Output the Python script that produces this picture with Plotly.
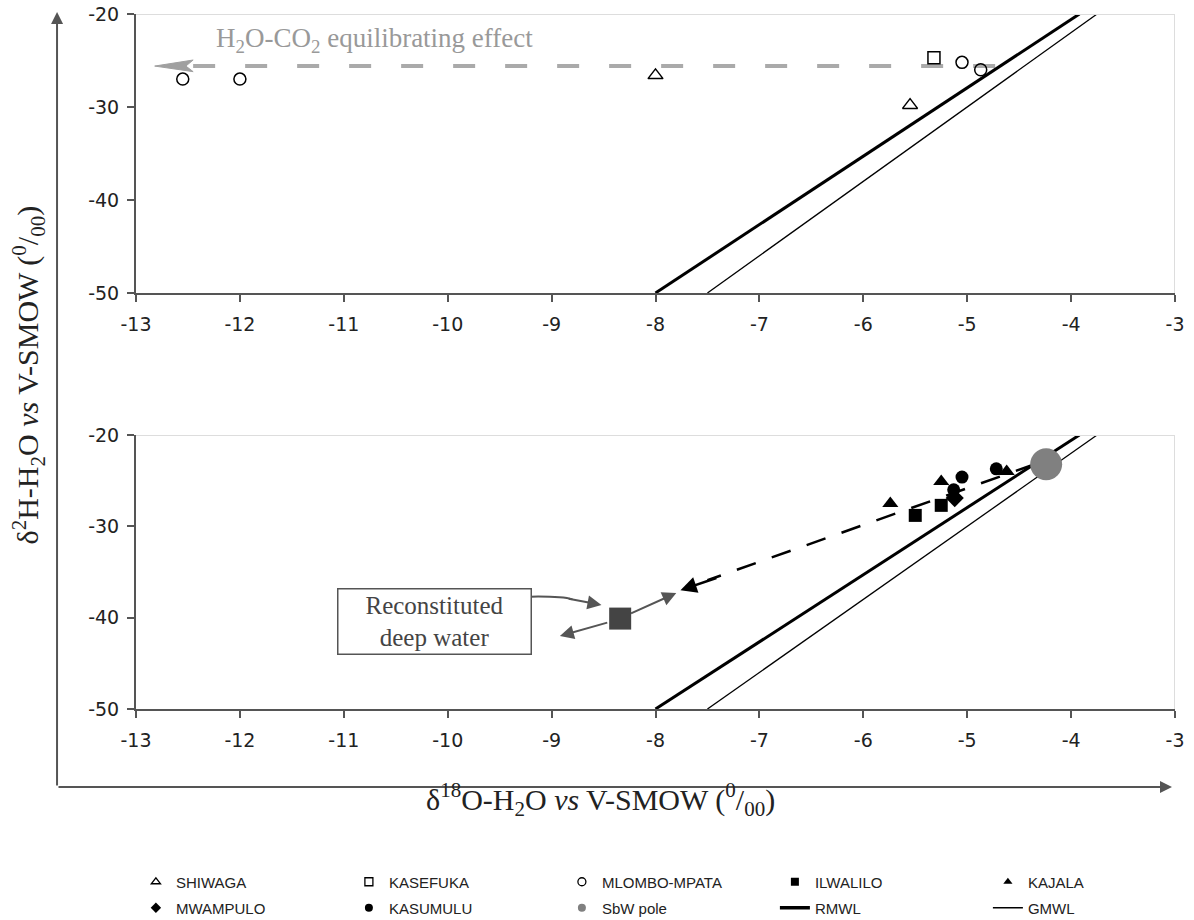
import plotly.graph_objects as go
from plotly.subplots import make_subplots

# panel a (top)
shiwaga_x = [-8.0, -5.55]
shiwaga_y = [-26.6, -29.8]
kasefuka_x = [-5.32]
kasefuka_y = [-24.7]
mlombo_x = [-12.55, -12.0, -5.05, -4.87]
mlombo_y = [-27.0, -27.0, -25.2, -26.0]
equil_x = [-12.45, -4.7]
equil_y = [-25.6, -25.6]

# panel b (bottom)
ilwalilo_x = [-5.5, -5.25]
ilwalilo_y = [-28.8, -27.7]
kajala_x = [-5.74, -5.25, -4.62]
kajala_y = [-27.5, -25.1, -24.0]
mwampulo_x = [-5.12]
mwampulo_y = [-26.9]
kasumulu_x = [-5.05, -5.13, -4.72]
kasumulu_y = [-24.6, -26.0, -23.7]
sbw_x = [-4.24]
sbw_y = [-23.2]
deep_x = [-8.34]
deep_y = [-40.1]
mix_x = [-4.35, -7.5]
mix_y = [-23.2, -35.9]

# meteoric water lines
rmwl_x = [-8.0, -3.92]
rmwl_y = [-50, -20]
gmwl_x = [-7.5, -3.75]
gmwl_y = [-50, -20]

x_ticks = list(range(-13, -2))
x_labels = ["-13", "-12", "-11", "-10", "-9", "-8", "-7", "-6", "-5", "-4", "-3"]
y_ticks = [-50, -40, -30, -20]
y_labels = ["-50", "-40", "-30", "-20"]

SERIF = "Liberation Serif"
SANS = "DejaVu Sans"
AX = "#555555"

fig = make_subplots(rows=2, cols=1)

def pts(x, y, symbol, size, color, row, lw=1.5):
    fig.add_trace(go.Scatter(
        x=x, y=y, mode="markers", showlegend=False,
        marker=dict(symbol=symbol, size=size, color=color,
                    line=dict(color="black", width=lw))), row=row, col=1)

def leg(name, legend, symbol=None, color="black", lw=1.3, line_w=None):
    if line_w:
        fig.add_trace(go.Scatter(x=[None], y=[None], mode="lines", name=name, legend=legend,
                                 line=dict(color="black", width=line_w)), row=1, col=1)
    else:
        fig.add_trace(go.Scatter(x=[None], y=[None], mode="markers", name=name, legend=legend,
                                 marker=dict(symbol=symbol, size=8, color=color,
                                             line=dict(color="black", width=lw))), row=1, col=1)

# top panel dashed grey line
fig.add_trace(go.Scatter(x=equil_x, y=equil_y, mode="lines", showlegend=False,
                         line=dict(color="#aaaaaa", width=4, dash="22px,30px")), row=1, col=1)
# bottom panel dashed mixing line
fig.add_trace(go.Scatter(x=mix_x, y=mix_y, mode="lines", showlegend=False,
                         line=dict(color="black", width=2.5, dash="20px,17px")), row=2, col=1)

for r in (1, 2):
    fig.add_trace(go.Scatter(x=rmwl_x, y=rmwl_y, mode="lines", showlegend=False,
                             line=dict(color="black", width=3)), row=r, col=1)
    fig.add_trace(go.Scatter(x=gmwl_x, y=gmwl_y, mode="lines", showlegend=False,
                             line=dict(color="black", width=1.3)), row=r, col=1)

pts(shiwaga_x, shiwaga_y, "triangle-up-open", 13, "black", 1)
pts(kasefuka_x, kasefuka_y, "square-open", 12, "black", 1)
pts(mlombo_x, mlombo_y, "circle-open", 12, "black", 1)
pts(ilwalilo_x, ilwalilo_y, "square", 13, "black", 2, 0)
pts(kajala_x, kajala_y, "triangle-up", 14, "black", 2, 0)
pts(mwampulo_x, mwampulo_y, "diamond", 14, "black", 2, 0)
pts(kasumulu_x, kasumulu_y, "circle", 13, "black", 2, 0)
pts(sbw_x, sbw_y, "circle", 32, "#808080", 2, 0)
pts(deep_x, deep_y, "square", 22, "#444444", 2, 0)

# legend entries (two rows)
leg("SHIWAGA", "legend", "triangle-up-open")
leg("KASEFUKA", "legend", "square-open")
leg("MLOMBO-MPATA", "legend", "circle-open")
leg("ILWALILO", "legend", "square", lw=0)
leg("KAJALA", "legend", "triangle-up", lw=0)
leg("MWAMPULO", "legend2", "diamond", lw=0)
leg("KASUMULU", "legend2", "circle", lw=0)
leg("SbW pole", "legend2", "circle", color="#808080", lw=0)
leg("RMWL", "legend2", line_w=3.5)
leg("GMWL", "legend2", line_w=1.5)

top_dom = [0.5986, 1.0]
bot_dom = [0.0, 0.3942]
ax_common = dict(showgrid=False, zeroline=False, showline=True, linecolor=AX, linewidth=2,
                 ticks="outside", ticklen=7, tickcolor=AX, tickwidth=1.5,
                 ticklabeloverflow="allow",
                 tickfont=dict(family=SANS, size=19, color="#222"))
for r, dom in ((1, top_dom), (2, bot_dom)):
    fig.update_xaxes(range=[-13, -3], tickvals=x_ticks, ticktext=x_labels, ticklabelstandoff=6,
                     row=r, col=1, **ax_common)
    fig.update_yaxes(range=[-50, -20], tickvals=y_ticks, ticktext=y_labels, ticklabelstandoff=4,
                     domain=dom, row=r, col=1, **ax_common)

# light frame on top/right
for xr, yr in (("x", "y"), ("x2", "y2")):
    fig.add_shape(type="line", xref=xr, yref=yr, x0=-13, x1=-3, y0=-20, y1=-20,
                  line=dict(color="#dddddd", width=2))
    fig.add_shape(type="line", xref=xr, yref=yr, x0=-3, x1=-3, y0=-50, y1=-20,
                  line=dict(color="#dddddd", width=2))

# grey arrow head of the equilibrating line
fig.add_shape(type="path", xref="x", yref="y",
              path="M -12.82,-25.6 L -12.45,-24.95 L -12.52,-25.6 L -12.45,-26.2 Z",
              fillcolor="#a0a0a0", line=dict(color="#a0a0a0", width=1))

ann = []
ann.append(dict(x=-10.7, y=-22.8, xref="x", yref="y", showarrow=False,
                text="H<sub>2</sub>O-CO<sub>2</sub> equilibrating effect",
                font=dict(family=SERIF, size=27, color="#999999")))
# mixing arrow head
ann.append(dict(x=-7.76, y=-37.0, ax=-7.4, ay=-35.6, xref="x2", yref="y2", axref="x2", ayref="y2",
                showarrow=True, arrowhead=2, arrowsize=1.3, arrowwidth=2.5, arrowcolor="black", text=""))
# arrows from reconstituted deep water
ann.append(dict(x=-7.8, y=-37.3, ax=-8.25, ay=-39.6, xref="x2", yref="y2", axref="x2", ayref="y2",
                showarrow=True, arrowhead=2, arrowsize=1.4, arrowwidth=2, arrowcolor="#555555", text=""))
ann.append(dict(x=-8.92, y=-42.0, ax=-8.45, ay=-40.5, xref="x2", yref="y2", axref="x2", ayref="y2",
                showarrow=True, arrowhead=2, arrowsize=1.4, arrowwidth=2, arrowcolor="#555555", text=""))
ann.append(dict(x=-8.52, y=-38.6, ax=-8.85, ay=-37.9, xref="x2", yref="y2", axref="x2", ayref="y2",
                showarrow=True, arrowhead=2, arrowsize=1.4, arrowwidth=2, arrowcolor="#555555", text=""))
fig.add_shape(type="path", xref="x2", yref="y2",
              path="M -9.2,-37.7 Q -8.9,-37.65 -8.8,-38.0",
              line=dict(color="#555555", width=2))
ann.append(dict(x=-10.13, y=-40.4, xref="x2", yref="y2", showarrow=False,
                text="Reconstituted<br>deep water", align="center",
                font=dict(family=SERIF, size=25, color="#444444"),
                bordercolor="#555555", borderwidth=1.5, borderpad=2, bgcolor="white", width=188))
# panel letters
ann.append(dict(x=-3.08, y=-50.3, xref="x", yref="y", xanchor="right", yanchor="bottom",
                showarrow=False, text="a", font=dict(family=SERIF, size=32, color="#222")))
ann.append(dict(x=-3.08, y=-50.3, xref="x2", yref="y2", xanchor="right", yanchor="bottom",
                showarrow=False, text="b", font=dict(family=SERIF, size=32, color="#222")))
# long axis arrows
ann.append(dict(x=-0.076, y=1.0029, ax=0, ay=775, xref="paper", yref="paper",
                showarrow=True, arrowhead=2, arrowsize=1.2,
                arrowwidth=2, arrowcolor=AX, text=""))
ann.append(dict(x=0.9971, y=-0.1122, ax=-1115, ay=0, xref="paper", yref="paper",
                showarrow=True, arrowhead=2, arrowsize=1.2,
                arrowwidth=2, arrowcolor=AX, text=""))
# axis titles
ann.append(dict(x=-0.1039, y=0.48, xref="paper", yref="paper", xanchor="center", yanchor="middle",
                showarrow=False, textangle=-90,
                text="δ<sup>2</sup>H-H<sub>2</sub>O <i>vs</i> V-SMOW (<sup>0</sup>/<sub>00</sub>)",
                font=dict(family=SERIF, size=30, color="#222")))
ann.append(dict(x=0.4466, y=-0.1309, xref="paper", yref="paper", xanchor="center", yanchor="middle",
                showarrow=False,
                text="δ<sup>18</sup>O-H<sub>2</sub>O <i>vs</i> V-SMOW (<sup>0</sup>/<sub>00</sub>)",
                font=dict(family=SERIF, size=30, color="#222")))

leg_common = dict(orientation="h", xanchor="left", yanchor="middle",
                  entrywidth=168, entrywidthmode="pixels",
                  font=dict(family="Liberation Sans", size=15, color="#222"),
                  bgcolor="rgba(0,0,0,0)")
fig.update_layout(
    width=1194, height=920,
    margin=dict(l=136, r=19, t=14, b=211, autoexpand=False),
    plot_bgcolor="white", paper_bgcolor="white",
    annotations=ann,
    legend=dict(x=-0.0001, y=-0.2489, **leg_common),
    legend2=dict(x=-0.0001, y=-0.2863, **leg_common),
)

# drop the default page margin so the figure sits at the top-left corner
fig.write_html("out.html", config={"displayModeBar": False},
               post_script="document.body.style.margin='0px';")
